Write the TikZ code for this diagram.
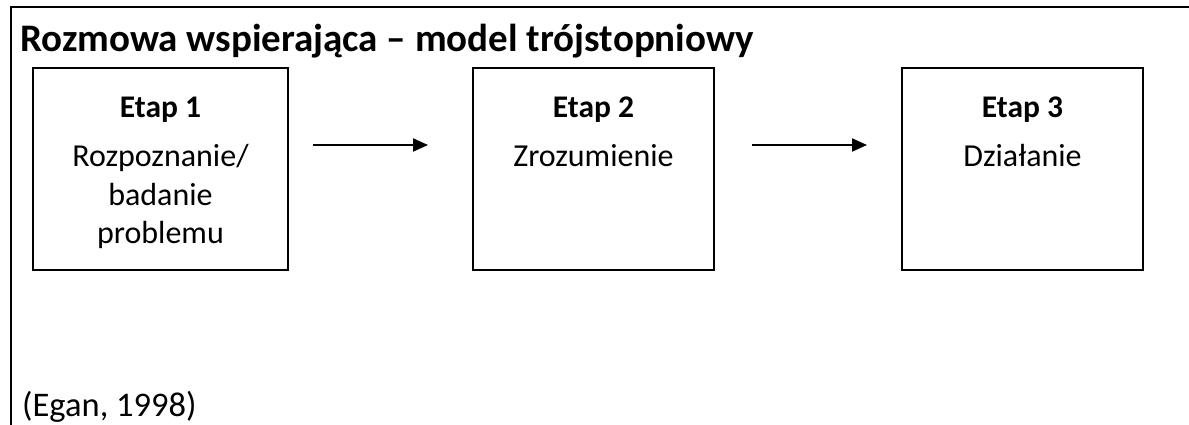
\documentclass[tikz,border=0pt]{standalone}
\usepackage{fontspec}
\setmainfont{Carlito}
\usetikzlibrary{arrows.meta}
\begin{document}
\begin{tikzpicture}[x=1pt,y=-1pt,
  frameline/.style={line width=2.6pt},
  stagebox/.style={draw, line width=2pt, minimum width=241pt, minimum height=202pt, inner sep=0pt},
  head/.style={anchor=base, inner sep=0pt, font=\fontsize{31.5}{38}\selectfont\bfseries},
  body/.style={anchor=base, inner sep=0pt, font=\fontsize{32}{38}\selectfont},
  flow/.style={line width=2pt, -{Triangle[length=15pt,width=13pt]}}]
\useasboundingbox (0,0) rectangle (1189,425);
% outer frame (top and left edges)
\coordinate (fbl) at (11,426);
\coordinate (ftl) at (11,7);
\coordinate (ftr) at (1190,7);
\draw[frameline] (fbl) -- (ftl) -- (ftr);
% title
\node[anchor=base west, inner sep=0pt, font=\fontsize{39}{46}\selectfont\bfseries] (title) at (20,52) {Rozmowa wspierająca – model trójstopniowy};
% boxes
\node[stagebox, minimum width=255pt] (b1) at (160.5,169) {};
\node[stagebox] (b2) at (593.5,169) {};
\node[stagebox] (b3) at (1022.5,169) {};
% box texts
\node[head] (h1) at (160.5,118) {Etap 1};
\node[body] (t1a) at (160.5,167) {Rozpoznanie/};
\node[body] (t1b) at (160.5,205) {badanie};
\node[body] (t1c) at (160.5,243) {problemu};
\node[head] (h2) at (593.5,118) {Etap 2};
\node[body] (t2) at (593.5,167) {Zrozumienie};
\node[head] (h3) at (1022.5,118) {Etap 3};
\node[body] (t3) at (1022.5,167) {Działanie};
% arrows
\coordinate (a1s) at (313,145);
\coordinate (a1e) at (428,145);
\coordinate (a2s) at (752,145);
\coordinate (a2e) at (867,145);
\draw[flow] (a1s) -- (a1e);
\draw[flow] (a2s) -- (a2e);
% source
\node[anchor=base west, inner sep=0pt, font=\fontsize{34.5}{40}\selectfont] (src) at (22,416) {(Egan, 1998)};
\end{tikzpicture}
\end{document}
